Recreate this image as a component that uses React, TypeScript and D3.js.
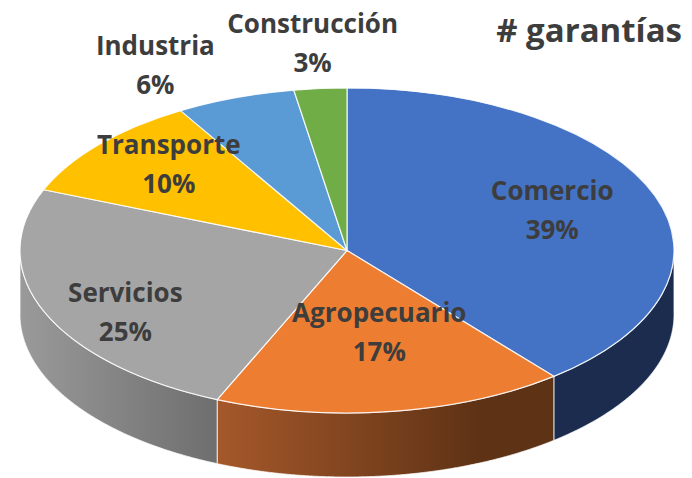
import React from "react";
import * as d3 from "d3";

// ---- data ----
const CATEGORIES = ["Comercio", "Agropecuario", "Servicios", "Transporte", "Industria", "Construcción"];
const VALUES = [39.1, 17.4, 24.6, 10.4, 5.9, 2.6];
const PERCENT_LABELS = ["39%", "17%", "25%", "10%", "6%", "3%"];
const TITLE = "# garantías";

// ---- styles / layout ----
const TOP_COLORS = ["#4472C4", "#ED7D31", "#A5A5A5", "#FFC000", "#5B9BD5", "#70AD47"];
const SIDE_STOPS: [string, string, number][] = [
  ["#1B2C4E", "#1B2C4E", 1],
  ["#A5582A", "#5E3215", 0.78],
  ["#9A9A9A", "#6E6E6E", 1],
  ["#C49400", "#8A6800", 1],
  ["#3F75A6", "#2C5478", 1],
  ["#4F7E31", "#375822", 1],
];
const LABEL_NUDGE: [number, number][] = [
  [5, -5],
  [3, -23],
  [-25, 21],
  [-17, -18],
  [-119, -86],
  [-17, -102],
];

const W = 692, H = 478;
const CX = 347, CY = 250.5, RX = 327, RY = 162.5, DEPTH = 64;
const TEXT = "#3d3d3d";
const FONT = "'Open Sans', 'Noto Sans', sans-serif";

export default function App() {
  const pie = d3.pie<number>().sort(null).value((d) => d).startAngle(0).endAngle(2 * Math.PI);
  const arcs = pie(VALUES);
  const arcGen = d3.arc<d3.PieArcDatum<number>>().innerRadius(0).outerRadius(RX);
  const wallArea = d3
    .area<number>()
    .x((a) => CX + RX * Math.sin(a))
    .y0((a) => CY - RY * Math.cos(a) + DEPTH)
    .y1((a) => CY - RY * Math.cos(a));

  const walls = arcs.map((a, i) => {
    const a0 = Math.max(a.startAngle, Math.PI / 2);
    const a1 = Math.min(a.endAngle, (3 * Math.PI) / 2);
    if (a0 >= a1) return null;
    const angles = d3.range(a0, a1, 0.004).concat([a1]);
    const xs = angles.map((t) => CX + RX * Math.sin(t));
    return { i, d: wallArea(angles) as string, xmin: d3.min(xs)!, xmax: d3.max(xs)! };
  });

  return (
    <svg width={W} height={H} style={{ position: "absolute", left: 0, top: 0, background: "#fff" }}>
      <defs>
        {walls.map((w) =>
          w ? (
            <linearGradient
              key={w.i}
              id={`side${w.i}`}
              gradientUnits="userSpaceOnUse"
              x1={w.xmin}
              x2={w.xmax}
              y1={0}
              y2={0}
            >
              <stop offset="0" stopColor={SIDE_STOPS[w.i][0]} />
              <stop offset={SIDE_STOPS[w.i][2]} stopColor={SIDE_STOPS[w.i][1]} />
              <stop offset="1" stopColor={SIDE_STOPS[w.i][1]} />
            </linearGradient>
          ) : null
        )}
      </defs>
      {walls.map((w) =>
        w ? (
          <path
            key={w.i}
            d={w.d}
            fill={`url(#side${w.i})`}
            stroke="#ffffff"
            strokeOpacity={0.75}
            strokeWidth={1}
          />
        ) : null
      )}
      <g transform={`translate(${CX},${CY}) scale(1,${RY / RX})`}>
        {arcs.map((a, i) => (
          <path
            key={i}
            d={arcGen(a) as string}
            fill={TOP_COLORS[i]}
            stroke="#ffffff"
            strokeOpacity={0.85}
            strokeWidth={1.2}
            vectorEffect="non-scaling-stroke"
          />
        ))}
      </g>
      {arcs.map((a, i) => {
        const mid = (a.startAngle + a.endAngle) / 2;
        const x = CX + RX * 0.65 * Math.sin(mid) + LABEL_NUDGE[i][0];
        const y = CY - RY * 0.65 * Math.cos(mid) + LABEL_NUDGE[i][1];
        return (
          <text
            key={i}
            x={x}
            y={y}
            textAnchor="middle"
            fontFamily={FONT}
            fontWeight={700}
            fontSize={26}
            fill={TEXT}
          >
            <tspan x={x} y={y - 10}>{CATEGORIES[i]}</tspan>
            <tspan x={x} y={y + 29}>{PERCENT_LABELS[i]}</tspan>
          </text>
        );
      })}
      <text x={682} y={42} textAnchor="end" fontFamily={FONT} fontWeight={700} fontSize={33} fill={TEXT}>
        {TITLE}
      </text>
    </svg>
  );
}
